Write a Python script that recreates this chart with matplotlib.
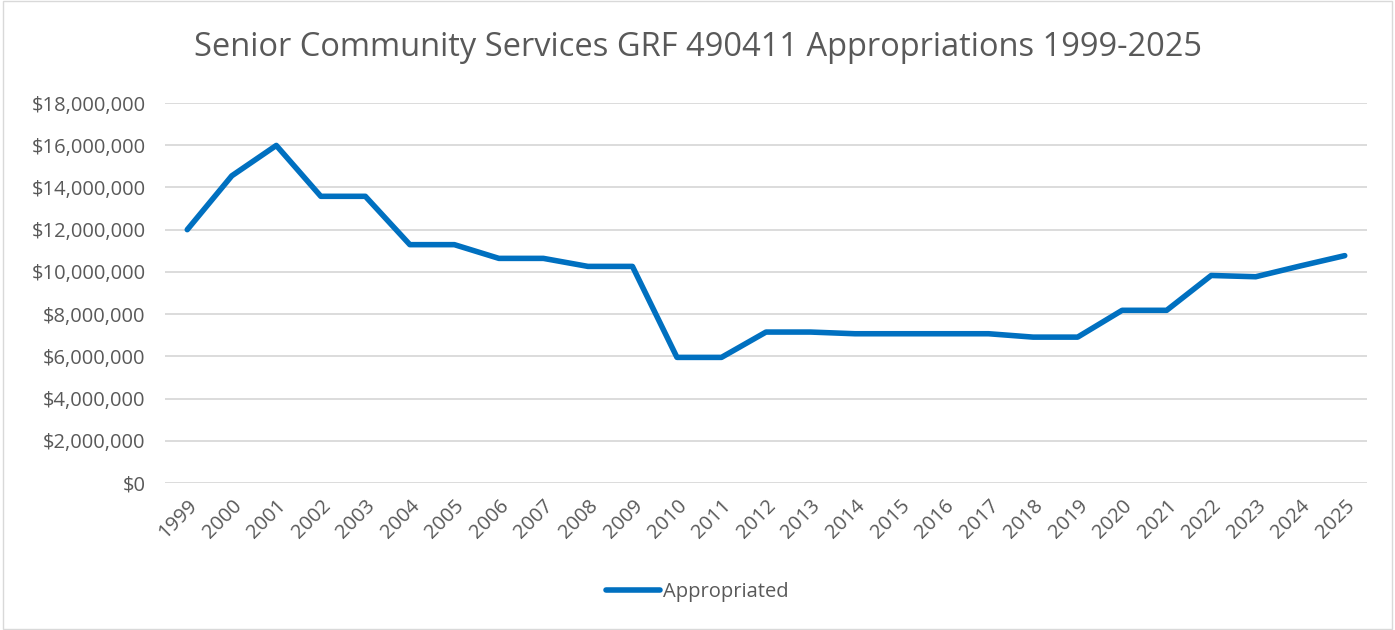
import matplotlib.pyplot as plt
from matplotlib.patches import Rectangle
from matplotlib.ticker import FuncFormatter

plt.rcParams['font.family'] = ['Open Sans', 'DejaVu Sans']

years = [str(y) for y in range(1999, 2026)]
appropriated = [
    12.00, 14.55, 15.99, 13.58, 13.58, 11.29, 11.29, 10.64, 10.64, 10.26,
    10.26, 5.95, 5.95, 7.15, 7.15, 7.07, 7.07, 7.07, 7.07, 6.91,
    6.91, 8.18, 8.18, 9.83, 9.77, 10.28, 10.77,
]
appropriated = [v * 1e6 for v in appropriated]

text_color = "#595959"

fig = plt.figure(figsize=(13.95, 6.3), dpi=100)
ax = fig.add_axes([165 / 1395, 1 - 483 / 630, (1367 - 165) / 1395, 380 / 630])

x = list(range(len(years)))
ax.plot(x, appropriated, color="#0070C0", linewidth=4.0,
        solid_capstyle="round", solid_joinstyle="round",
        label="Appropriated", zorder=3)

ax.set_xlim(-0.5, len(years) - 0.5)
ax.set_ylim(0, 18e6)
ax.set_yticks(range(0, 18000001, 2000000))
ax.yaxis.set_major_formatter(FuncFormatter(lambda v, p: "${:,.0f}".format(v)))
ax.set_xticks(x)
ax.set_xticklabels(years, rotation=45, ha="right", rotation_mode="anchor")

ax.grid(axis="y", color="#D9D9D9", linewidth=1.3)
ax.set_axisbelow(True)
for s in ax.spines.values():
    s.set_visible(False)
ax.tick_params(length=0, labelsize=14.5, colors=text_color)
ax.tick_params(axis="y", pad=14)
ax.tick_params(axis="x", pad=9)

fig.text(0.5, 1 - 47 / 630, "Senior Community Services GRF 490411 Appropriations 1999-2025",
         ha="center", va="center", fontsize=23.5, color=text_color)

leg = fig.legend(loc="center", bbox_to_anchor=(0.5, 1 - 592 / 630), frameon=False,
                 fontsize=14.5, handlelength=2.7, handletextpad=0.15)
for t in leg.get_texts():
    t.set_color(text_color)

fig.patches.append(Rectangle((0.002, 0.002), 0.996, 0.996, transform=fig.transFigure,
                             fill=False, edgecolor="#D9D9D9", linewidth=1))

fig.savefig("out.png", dpi=100)
